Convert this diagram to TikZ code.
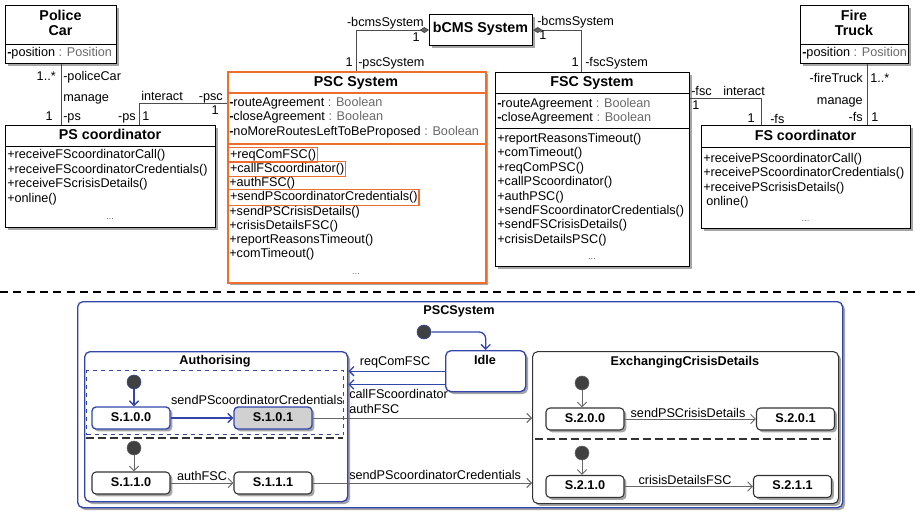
\documentclass[tikz,border=0pt]{standalone}
\usepackage{fontspec}
\setmainfont{Liberation Sans}
\usetikzlibrary{arrows.meta,shadows,positioning}
\definecolor{umlblue}{RGB}{50,70,170}
\definecolor{umlorange}{RGB}{240,110,45}
\definecolor{umlgray}{RGB}{105,105,105}
\newlength{\upx}\setlength{\upx}{0.75pt}
\newcommand{\attr}[2]{{\bfseries-}#1 {\color{umlgray}: #2}}

\begin{document}
\begin{tikzpicture}[x=0.75pt,y=-0.75pt,
  font=\fontsize{9.5}{11}\selectfont,
  every node/.style={inner sep=0pt, text height=0.72em, text depth=0.2em},
  shade/.style={drop shadow={shadow xshift=1.8pt, shadow yshift=-1.8pt, fill=black!35, opacity=1}},
  cls/.style={draw, line width=0.8pt, fill=white, anchor=north west, shade},
  ttl/.style={font=\fontsize{10.7}{12.5}\selectfont\bfseries},
  ln/.style={anchor=west},
  dots/.style={text=umlgray, font=\fontsize{7}{8}\selectfont},
  hl/.style={anchor=west, draw=umlorange, line width=1pt, inner xsep=1pt, inner ysep=1.2pt},
  assoc/.style={draw=black!70, line width=0.7pt},
  comp/.style={assoc, {Diamond[length=7pt,width=4.5pt,fill=black!60]}-},
  region/.style={draw=black!80, line width=0.8pt, rounded corners=4pt, fill=white, anchor=north west, shade},
  state/.style={draw=black!80, line width=0.8pt, rounded corners=3pt, fill=white, shade,
    minimum width=78*\upx, minimum height=22*\upx, font=\fontsize{9.5}{11}\selectfont\bfseries},
  bstate/.style={state, draw=umlblue, line width=1pt},
  init/.style={circle, fill=black!75, draw=black!60, minimum size=14*\upx, text height=, text depth=},
  trans/.style={draw=black!60, line width=0.7pt, -{Straight Barb[length=3.5pt,width=7pt]}},
  btrans/.style={draw=umlblue, line width=1pt, -{Straight Barb[length=3.5pt,width=7pt]}}]
\useasboundingbox (0,0) rectangle (916,510);

% class diagram
\node[cls, minimum width=111*\upx, minimum height=58*\upx] (pcar) at (5,5) {};
\node[ttl] (pcar-t1) at (60.5,17) {Police};
\node[ttl] (pcar-t2) at (60.5,32) {Car};
\draw (5,44) -- (116,44);
\node[ln] (pcar-a1) at (7,53) {\attr{position}{Position}};

\node[cls, minimum width=210*\upx, minimum height=102*\upx] (psco) at (5,125) {};
\node[ttl] (psco-t) at (110,136) {PS coordinator};
\draw (5,146) -- (215,146);
\node[ln] (psco-m1) at (7,155) {+receiveFScoordinatorCall()};
\node[ln] (psco-m2) at (7,169.7) {+receiveFScoordinatorCredentials()};
\node[ln] (psco-m3) at (7,184.3) {+receiveFScrisisDetails()};
\node[ln] (psco-m4) at (7,199) {+online()};
\node[dots] (psco-d) at (110,216) {...};

\node[cls, draw=umlorange, line width=1.3pt, minimum width=258*\upx, minimum height=211*\upx] (psc) at (227,71) {};
\node[ttl] (psc-t) at (356,83) {PSC System};
\draw[umlorange, line width=1.3pt] (227,93) -- (485,93);
\draw[umlorange, line width=1.3pt] (227,144) -- (485,144);
\node[ln] (psc-a1) at (229,103) {\attr{routeAgreement}{Boolean}};
\node[ln] (psc-a2) at (229,117.5) {\attr{closeAgreement}{Boolean}};
\node[ln] (psc-a3) at (229,132) {\attr{noMoreRoutesLeftToBeProposed}{Boolean}};
\node[hl] (psc-m1) at (228,155) {+reqComFSC()};
\node[hl] (psc-m2) at (228,169) {+callFScoordinator()};
\node[ln] (psc-m3) at (229,183) {+authFSC()};
\node[hl] (psc-m4) at (228,197.5) {+sendPScoordinatorCredentials()};
\node[ln] (psc-m5) at (229,212) {+sendPSCrisisDetails()};
\node[ln] (psc-m6) at (229,226) {+crisisDetailsFSC()};
\node[ln] (psc-m7) at (229,240) {+reportReasonsTimeout()};
\node[ln] (psc-m8) at (229,254.5) {+comTimeout()};
\node[dots] (psc-d) at (356,271) {...};

\node[cls, minimum width=194*\upx, minimum height=194*\upx] (fsc) at (495,72) {};
\node[ttl] (fsc-t) at (592,83) {FSC System};
\draw (495,93) -- (689,93);
\draw (495,128) -- (689,128);
\node[ln] (fsc-a1) at (497,104) {\attr{routeAgreement}{Boolean}};
\node[ln] (fsc-a2) at (497,118) {\attr{closeAgreement}{Boolean}};
\node[ln] (fsc-m1) at (497,139) {+reportReasonsTimeout()};
\node[ln] (fsc-m2) at (497,153.4) {+comTimeout()};
\node[ln] (fsc-m3) at (497,167.8) {+reqComPSC()};
\node[ln] (fsc-m4) at (497,182.2) {+callPScoordinator()};
\node[ln] (fsc-m5) at (497,196.6) {+authPSC()};
\node[ln] (fsc-m6) at (497,211) {+sendFScoordinatorCredentials()};
\node[ln] (fsc-m7) at (497,225.4) {+sendFSCrisisDetails()};
\node[ln] (fsc-m8) at (497,239.8) {+crisisDetailsPSC()};
\node[dots] (fsc-d) at (592,256) {...};

\node[cls, minimum width=103*\upx, minimum height=31*\upx] (bcms) at (429,14) {};
\node[ttl] (bcms-t) at (480.5,29.5) {bCMS System};

\node[cls, minimum width=108*\upx, minimum height=58*\upx] (ftruck) at (800,5) {};
\node[ttl] (ftruck-t1) at (854,17) {Fire};
\node[ttl] (ftruck-t2) at (854,32) {Truck};
\draw (800,44) -- (908,44);
\node[ln] (ftruck-a1) at (802,53) {\attr{position}{Position}};

\node[cls, minimum width=209*\upx, minimum height=103*\upx] (fsco) at (701,125) {};
\node[ttl] (fsco-t) at (805.5,137) {FS coordinator};
\draw (701,147) -- (910,147);
\node[ln] (fsco-m1) at (703,159) {+receivePScoordinatorCall()};
\node[ln] (fsco-m2) at (703,173.5) {+receivePScoordinatorCredentials()};
\node[ln] (fsco-m3) at (703,188) {+receivePScrisisDetails()};
\node[ln] (fsco-m4) at (706,202) {online()};
\node[dots] (fsco-d) at (805.5,218) {...};

% associations
\draw[assoc] (pcar.south) -- (pcar.south |- psco.north);
\node[anchor=east] (pc-m1) at (56,77) {1..*};
\node[anchor=west] (pc-r1) at (63,77) {-policeCar};
\node[anchor=west] (pc-as) at (63,98) {manage};
\node[anchor=east] (pc-m2) at (53,117) {1};
\node[anchor=west] (pc-r2) at (63,117) {-ps};

\coordinate (ia) at (139,103);
\draw[assoc] (ia |- psco.north) -- (ia) -- (ia -| psc.west);
\node[anchor=east] (ia-r1) at (136,117) {-ps};
\node[anchor=west] (ia-m1) at (142,117) {1};
\node[anchor=west] (ia-as) at (141,97) {interact};
\node[anchor=east] (ia-r2) at (223,97) {-psc};
\node[anchor=east] (ia-m2) at (219,111) {1};

\draw[comp] (bcms.west) -| (psc.north);
\node[anchor=east] (bp-r1) at (424,23) {-bcmsSystem};
\node[anchor=east] (bp-m1) at (420,38) {1};
\node[anchor=east] (bp-m2) at (353,63) {1};
\node[anchor=west] (bp-r2) at (358,63) {-pscSystem};

\coordinate (fa) at (581,50);
\draw[comp] (bcms.east) -| (fa |- fsc.north);
\node[anchor=west] (bf-r1) at (537,22) {-bcmsSystem};
\node[anchor=west] (bf-m1) at (539,36) {1};
\node[anchor=east] (bf-m2) at (579,63) {1};
\node[anchor=west] (bf-r2) at (585,63) {-fscSystem};

\coordinate (ib) at (761,98);
\draw[assoc] (ib -| fsc.east) -- (ib) -- (ib |- fsco.north);
\node[anchor=west] (ib-r1) at (691,92) {-fsc};
\node[anchor=west] (ib-m1) at (692,106) {1};
\node[anchor=west] (ib-as) at (723,92) {interact};
\node[anchor=east] (ib-m2) at (755,119) {1};
\node[anchor=west] (ib-r2) at (770,120) {-fs};

\coordinate (fb) at (867,40);
\draw[assoc] (fb |- ftruck.south) -- (fb |- fsco.north);
\node[anchor=east] (ft-r1) at (863,79) {-fireTruck};
\node[anchor=west] (ft-m1) at (870,79) {1..*};
\node[anchor=east] (ft-as) at (863,101) {manage};
\node[anchor=east] (ft-r2) at (863,118) {-fs};
\node[anchor=west] (ft-m2) at (871,118) {1};

\draw[line width=1.1pt, dash pattern=on 6pt off 4pt] (0,292) -- (916,292);

% state machine
\node[region, draw=umlblue, line width=1pt, minimum width=765*\upx, minimum height=206*\upx, drop shadow={opacity=0}] (pscsys) at (77,301) {};
\node[font=\fontsize{9.5}{11}\selectfont\bfseries] (pscsys-t) at (459,311) {PSCSystem};
\node[init, draw=umlblue] (i0) at (424,332) {};
\node[region, draw=umlblue, line width=1pt, minimum width=80*\upx, minimum height=41*\upx] (idle) at (445,350) {};
\node[font=\fontsize{9.5}{11}\selectfont\bfseries] (idle-t) at (485,361) {Idle};
\draw[btrans, rounded corners=5pt] (i0) -| (idle.north);

\node[region, draw=umlblue, line width=1pt, minimum width=263*\upx, minimum height=150*\upx] (auth) at (84,351) {};
\node[font=\fontsize{9.5}{11}\selectfont\bfseries] (auth-t) at (215,361) {Authorising};
\node[draw=umlblue, dashed, line width=0.9pt, anchor=north west, minimum width=257*\upx, minimum height=64*\upx] (auth-r0) at (86,370) {};
\draw[black!80, line width=0.9pt, dash pattern=on 6pt off 3pt] (86,438) -- (343,438);
\node[init, draw=umlblue] (a-i0) at (134,382) {};
\node[bstate] (s100) at (131,418) {S.1.0.0};
\node[bstate, fill=black!18] (s101) at (273,418) {S.1.0.1};
\draw[btrans] (a-i0) -- (a-i0 |- s100.north);
\draw[btrans] (s100) -- (s101);
\node (l-s100) at (257,401) {sendPScoordinatorCredentials};
\node[init] (a-i1) at (134,448) {};
\node[state] (s110) at (131,483) {S.1.1.0};
\node[state] (s111) at (273,483) {S.1.1.1};
\draw[trans] (a-i1) -- (a-i1 |- s110.north);
\draw[trans] (s110) -- (s111);
\node (l-s110) at (202,477) {authFSC};

\node[region, minimum width=306*\upx, minimum height=152*\upx] (exch) at (532,351) {};
\node[font=\fontsize{9.5}{11}\selectfont\bfseries] (exch-t) at (685,362) {ExchangingCrisisDetails};
\draw[black!80, line width=0.9pt, dash pattern=on 6pt off 3pt] (535,439) -- (835,439);
\node[init] (e-i0) at (582,383) {};
\node[state] (s200) at (585,419) {S.2.0.0};
\node[state] (s201) at (795.5,419) {S.2.0.1};
\draw[trans] (e-i0) -- (e-i0 |- s200.north);
\draw[trans] (s200) -- (s201);
\node (l-s200) at (688,414) {sendPSCrisisDetails};
\node[init] (e-i1) at (582,453) {};
\node[state] (s210) at (585,486.5) {S.2.1.0};
\node[state] (s211) at (792.5,486.5) {S.2.1.1};
\draw[trans] (e-i1) -- (e-i1 |- s210.north);
\draw[trans] (s210) -- (s211);
\node (l-s210) at (685,481) {crisisDetailsFSC};

% transitions between regions
\draw[btrans] (idle.west) -- (idle.west -| auth.east);
\node (l-req) at (395,362) {reqComFSC};
\coordinate (cf) at ([yshift=-10pt]idle.west);
\draw[btrans] (cf) -- (cf -| auth.east);
\node[anchor=west] (l-call) at (349,395) {callFScoordinator};
\draw[trans] (s101) -- (s101 -| exch.west);
\node[anchor=west] (l-auth) at (349,410) {authFSC};
\draw[trans] (s111) -- (s111 -| exch.west);
\node[anchor=west] (l-send) at (349,476) {sendPScoordinatorCredentials};
\end{tikzpicture}
\end{document}
